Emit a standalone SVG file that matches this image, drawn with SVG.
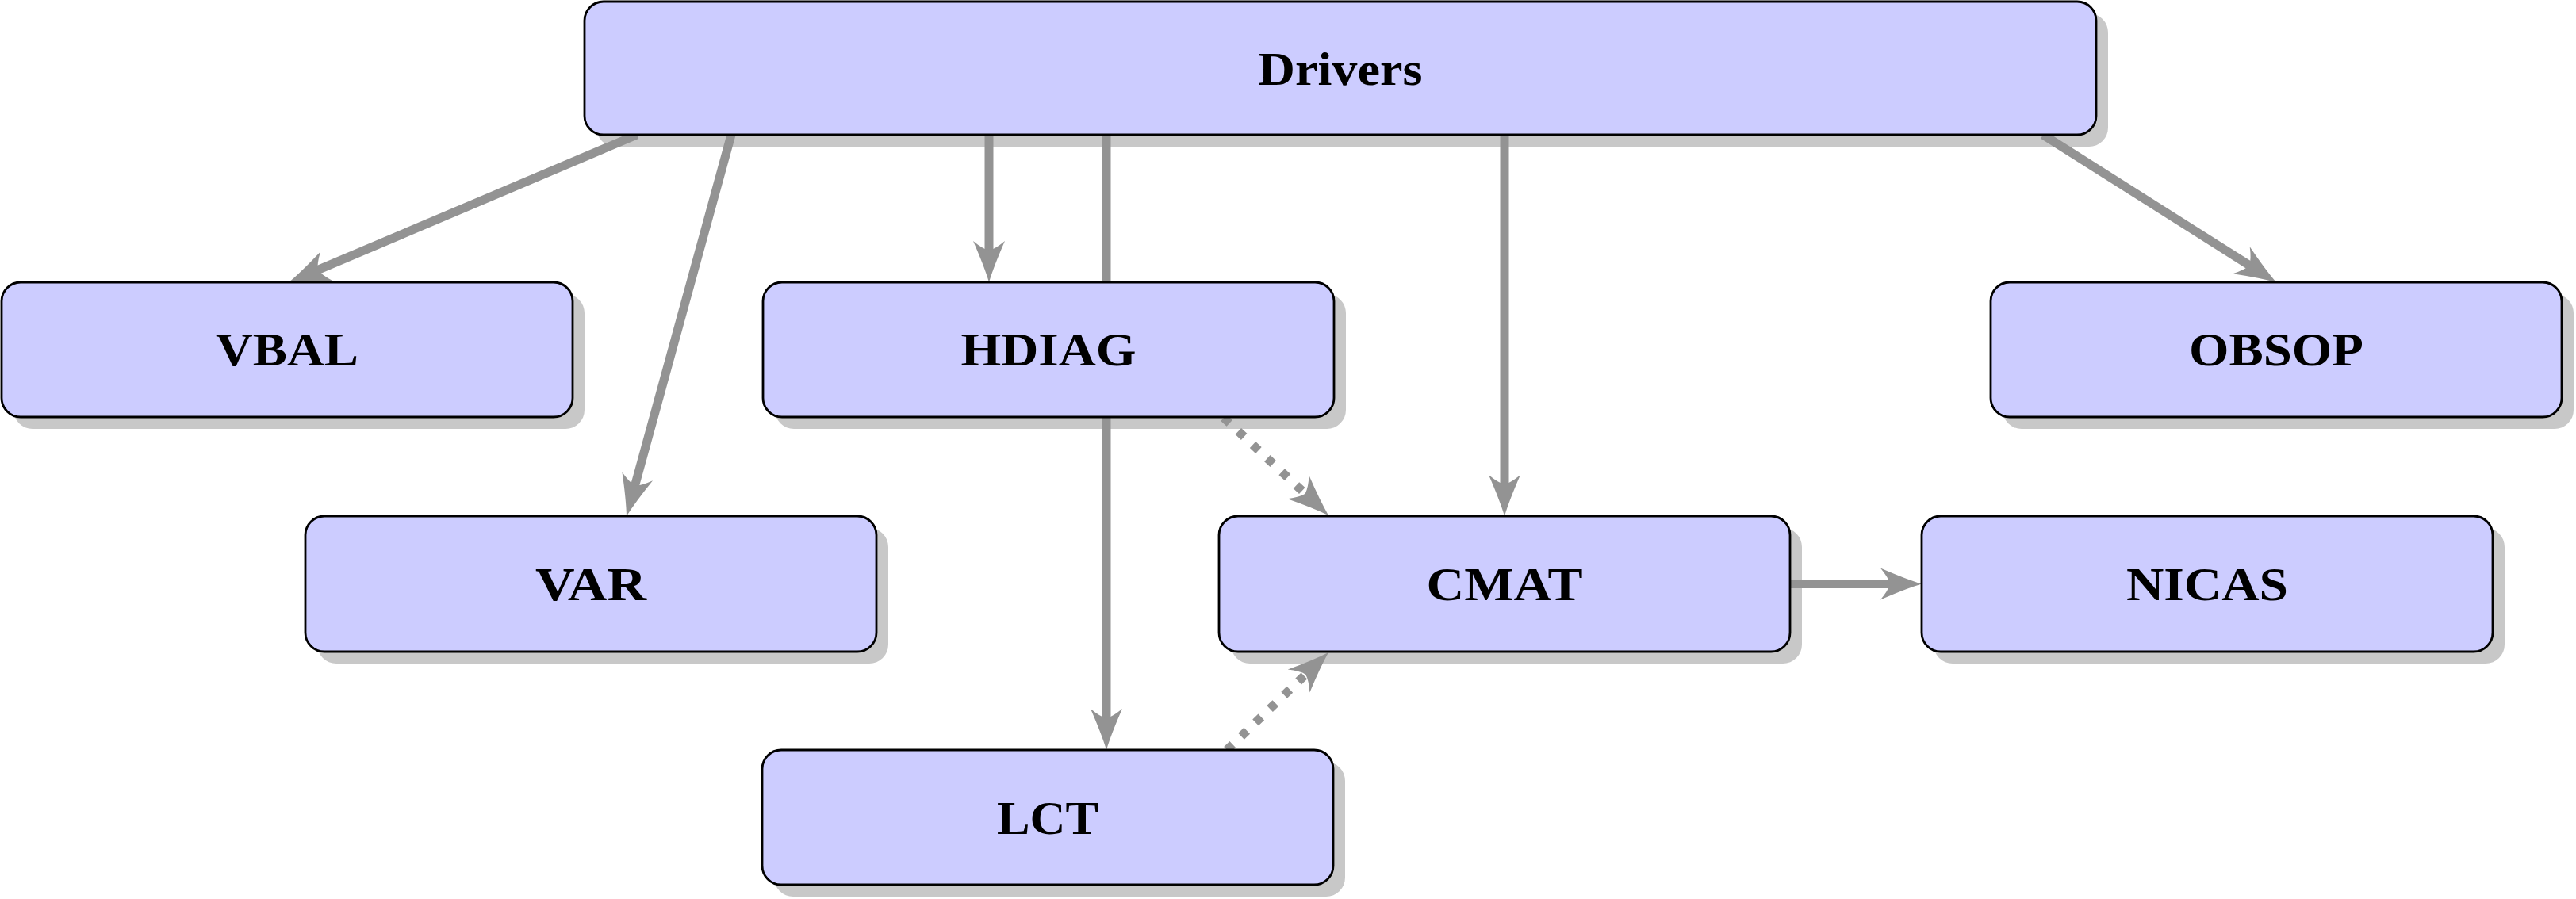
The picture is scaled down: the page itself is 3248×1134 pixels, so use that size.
<svg xmlns="http://www.w3.org/2000/svg" width="3248" height="1134" viewBox="0 0 3248 1134">
<style>
.shadow{fill:#c8c8c8;}
.box{fill:#ccccff;stroke:#000;stroke-width:2.8;}
.lbl{font-family:"Liberation Serif","Times New Roman",serif;font-weight:bold;font-size:59px;fill:#000;text-anchor:middle;}
.edge{fill:none;stroke:#939393;stroke-width:11;stroke-linecap:butt;marker-end:url(#arr);}
.dot{stroke-dasharray:10 15;}
</style>
<defs>
<marker id="arr" markerUnits="userSpaceOnUse" orient="auto" refX="0" refY="0" viewBox="-24 -22 56 44" markerWidth="56" markerHeight="44" overflow="visible">
<path d="M30,0 Q10,-6 -22,-20 Q-12,-8 -10,0 Q-12,8 -22,20 Q10,6 30,0 Z" fill="#939393"/>
</marker>
</defs>
<rect width="3248" height="1134" fill="#fff"/>
<g id="shadows">
<rect class="shadow" x="752" y="17" width="1906" height="168" rx="24"/>
<rect class="shadow" x="17" y="371" width="720" height="170" rx="24"/>
<rect class="shadow" x="977" y="371" width="720" height="170" rx="24"/>
<rect class="shadow" x="2525" y="371" width="720" height="170" rx="24"/>
<rect class="shadow" x="400" y="666" width="720" height="171" rx="24"/>
<rect class="shadow" x="1552" y="666" width="720" height="171" rx="24"/>
<rect class="shadow" x="2438" y="666" width="720" height="171" rx="24"/>
<rect class="shadow" x="976" y="961" width="720" height="170" rx="24"/>
</g>
<g id="connectors">
<path class="edge" d="M803,170 L391.6,344.4"/>
<path class="edge" d="M922,170 L797.9,622.1"/>
<path class="edge" d="M1247,170 L1247,326"/>
<path class="edge" d="M1395,170 L1395,916"/>
<path class="edge" d="M1897,170 L1897,621"/>
<path class="edge" d="M2576,170 L2844.6,340"/>
<path class="edge dot" d="M1543,527 L1653,629.5"/>
<path class="edge dot" d="M1547,946 L1653.4,843.8"/>
<path class="edge" d="M2257,736.5 L2393,736.5"/>
</g>
<g id="node-drivers">
<rect class="box" x="737" y="2" width="1906" height="168" rx="24"/>
<text class="lbl" x="1690" y="107" textLength="207" lengthAdjust="spacingAndGlyphs">Drivers</text>
</g>
<g id="node-vbal">
<rect class="box" x="2" y="356" width="720" height="170" rx="24"/>
<text class="lbl" x="362" y="461" textLength="180" lengthAdjust="spacingAndGlyphs">VBAL</text>
</g>
<g id="node-hdiag">
<rect class="box" x="962" y="356" width="720" height="170" rx="24"/>
<text class="lbl" x="1322" y="461" textLength="221" lengthAdjust="spacingAndGlyphs">HDIAG</text>
</g>
<g id="node-obsop">
<rect class="box" x="2510" y="356" width="720" height="170" rx="24"/>
<text class="lbl" x="2870" y="461" textLength="220" lengthAdjust="spacingAndGlyphs">OBSOP</text>
</g>
<g id="node-var">
<rect class="box" x="385" y="651" width="720" height="171" rx="24"/>
<text class="lbl" x="745" y="757" textLength="140" lengthAdjust="spacingAndGlyphs">VAR</text>
</g>
<g id="node-cmat">
<rect class="box" x="1537" y="651" width="720" height="171" rx="24"/>
<text class="lbl" x="1897" y="757" textLength="197" lengthAdjust="spacingAndGlyphs">CMAT</text>
</g>
<g id="node-nicas">
<rect class="box" x="2423" y="651" width="720" height="171" rx="24"/>
<text class="lbl" x="2783" y="757" textLength="204" lengthAdjust="spacingAndGlyphs">NICAS</text>
</g>
<g id="node-lct">
<rect class="box" x="961" y="946" width="720" height="170" rx="24"/>
<text class="lbl" x="1321" y="1052" textLength="128" lengthAdjust="spacingAndGlyphs">LCT</text>
</g>
</svg>
